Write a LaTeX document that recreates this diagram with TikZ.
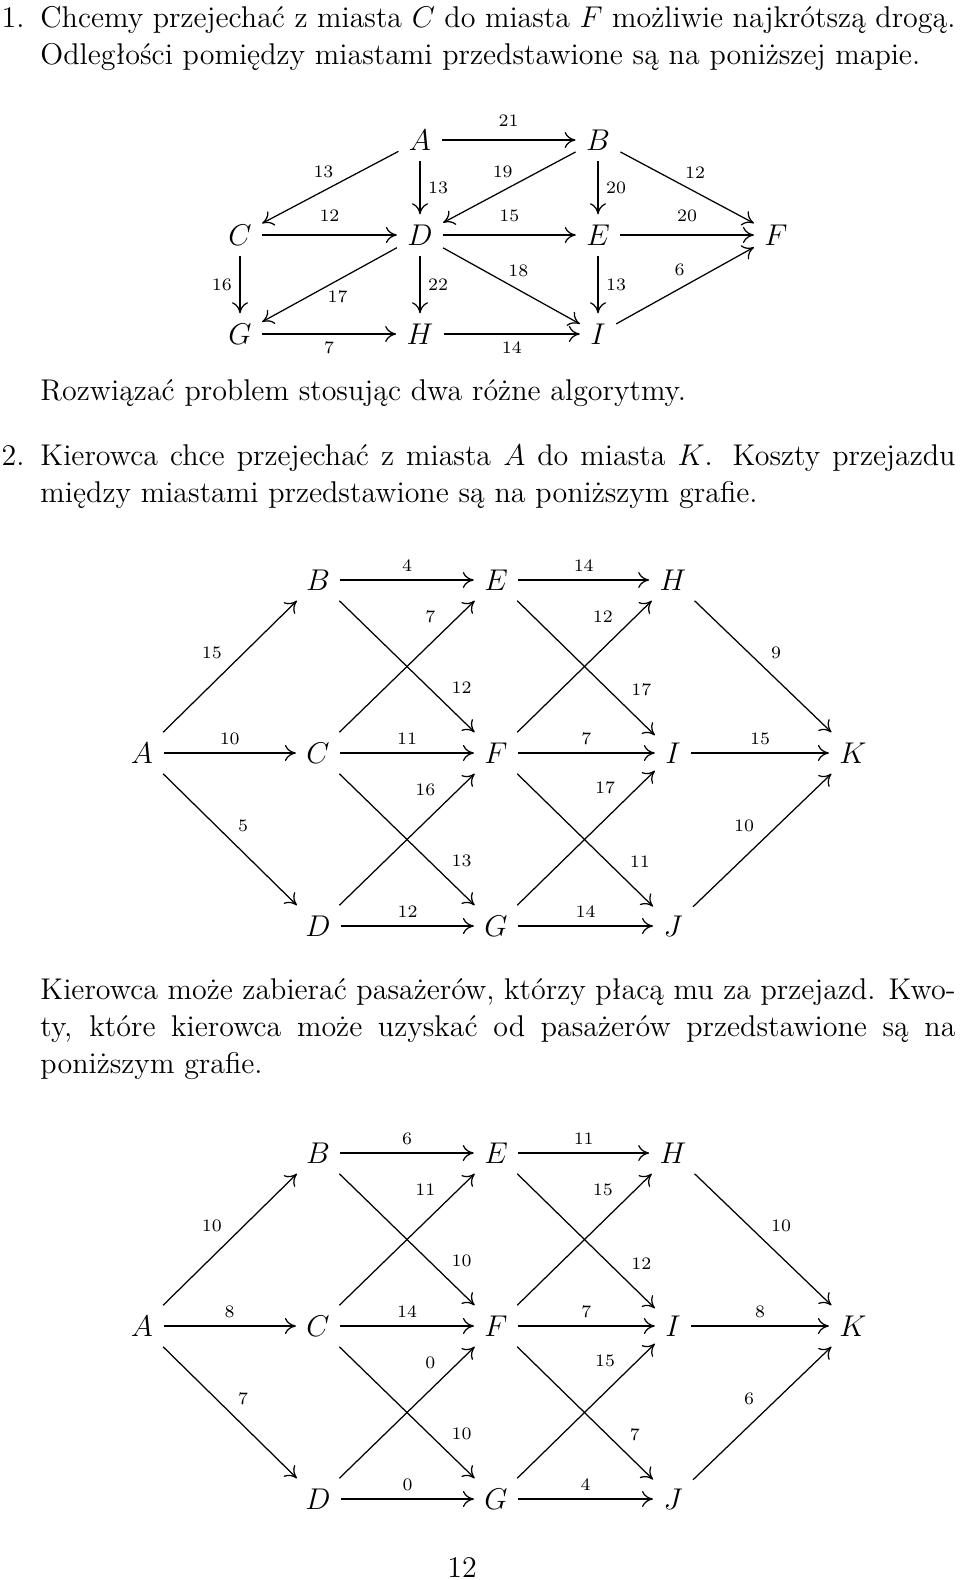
\documentclass[tikz,border=0pt,12pt]{standalone}
\usepackage{fontspec}
\usetikzlibrary{arrows.meta}

\tikzset{
	road/.style={-{To[length=4.4pt, width=6.4pt]}, line width=0.5pt},
	cost/.style={font=\fontsize{7}{8.5}\selectfont, inner sep=3pt},
	txt/.style={anchor=base west, inner sep=0pt},
}

\begin{document}
\begin{tikzpicture}[x=0.4pt, y=-0.4pt]
	\useasboundingbox (0,0) rectangle (960,1580);
	
	% Task 1 text
	\node[txt, anchor=base east] (num1) at (25,27) {1.};
	\node[txt] (l1) at (40,27) {\makebox[366pt][s]{Chcemy przejechać z miasta $C$ do miasta $F$ możliwie najkrótszą drogą.}};
	\node[txt] (l2) at (40,64) {Odległości pomiędzy miastami przedstawione są na poniższej mapie.};
	
	% Map of task 1
	\node (A1) at (420,140) {$A$};
	\node (B1) at (598,140) {$B$};
	\node (C1) at (240,235) {$C$};
	\node (D1) at (420,235) {$D$};
	\node (E1) at (598,235) {$E$};
	\node (F1) at (776,235) {$F$};
	\node (G1) at (240,334) {$G$};
	\node (H1) at (420,334) {$H$};
	\node (I1) at (598,334) {$I$};
	
	\foreach \a/\b/\w/\p/\an/\s in {A/B/21/.5/south/2, A/C/13/.55/south/2, A/D/13/.5/west/0,
		B/D/19/.55/south/2, B/E/20/.5/west/0, B/F/12/.56/south/2, C/D/12/.5/south/2,
		D/E/15/.5/south/2, E/F/20/.5/south/2, C/G/16/.5/east/0, D/G/17/.44/north/-1,
		D/H/22/.5/west/0, D/I/18/.55/south/2, E/I/13/.5/west/0, I/F/6/.46/south/2,
		G/H/7/.5/north/0, H/I/14/.5/north/0}
	\draw[road] (\a1) -- node[cost, pos=\p, anchor=\an, yshift=\s pt] {\w} (\b1);
	
	\node[txt] (l3) at (40,400) {Rozwiązać problem stosując dwa różne algorytmy.};
	
	% Task 2 text
	\node[txt, anchor=base east] (num2) at (25,465) {2.};
	\node[txt] (l4) at (40,465) {\makebox[366pt][s]{Kierowca chce przejechać z miasta $A$ do miasta $K$. Koszty przejazdu}};
	\node[txt] (l5) at (40,502) {między miastami przedstawione są na poniższym grafie.};
	
	% Cities of both graphs
	\foreach \g/\y in {2/753, 3/1326}
	\foreach \n/\x/\r in {A/142/0, B/318/-1, C/318/0, D/318/1, E/496/-1, F/496/0,
		G/496/1, H/673/-1, I/673/0, J/673/1, K/853/0}
	\node (\n\g) at (\x,\y+173*\r) {$\n$};
	
	% Costs
	\foreach \a/\b/\w/\p/\an in {A/B/15/.5/south east, A/C/10/.5/south, A/D/5/.5/south west,
		B/E/4/.5/south, B/F/12/.77/south west, C/E/7/.77/south east, C/F/11/.5/south,
		C/G/13/.77/south west, D/F/16/.77/south east, D/G/12/.5/south,
		E/H/14/.5/south, E/I/17/.77/south west, F/H/12/.77/south east, F/I/7/.5/south,
		F/J/11/.77/south west, G/I/17/.77/south east, G/J/14/.5/south,
		H/K/9/.5/south west, I/K/15/.5/south, J/K/10/.5/south east}
	\draw[road] (\a2) -- node[cost, pos=\p, anchor=\an] {\w} (\b2);
	
	\node[txt] (l6) at (40,999) {\makebox[366pt][s]{Kierowca może zabierać pasażerów, którzy płacą mu za przejazd. Kwo-}};
	\node[txt] (l7) at (40,1036) {\makebox[366pt][s]{ty, które kierowca może uzyskać od pasażerów przedstawione są na}};
	\node[txt] (l8) at (40,1073) {poniższym grafie.};
	
	% Fares
	\foreach \a/\b/\w/\p/\an in {A/B/10/.5/south east, A/C/8/.5/south, A/D/7/.5/south west,
		B/E/6/.5/south, B/F/10/.77/south west, C/E/11/.77/south east, C/F/14/.5/south,
		C/G/10/.77/south west, D/F/0/.77/south east, D/G/0/.5/south,
		E/H/11/.5/south, E/I/12/.77/south west, F/H/15/.77/south east, F/I/7/.5/south,
		F/J/7/.77/south west, G/I/15/.77/south east, G/J/4/.5/south,
		H/K/10/.5/south west, I/K/8/.5/south, J/K/6/.5/south east}
	\draw[road] (\a3) -- node[cost, pos=\p, anchor=\an] {\w} (\b3);
	
	\node[txt, anchor=base] (page) at (462,1577) {12};
\end{tikzpicture}
\end{document}
